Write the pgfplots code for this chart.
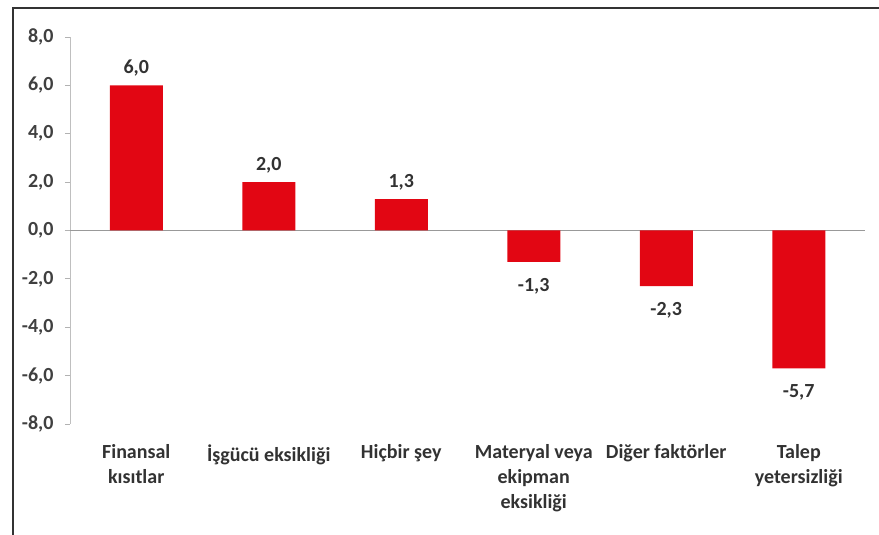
\documentclass[border=0pt]{standalone}
\usepackage{pgfplots}
\pgfplotsset{compat=1.18}
\usepackage{fontspec}
\setmainfont{Carlito}
\definecolor{barred}{RGB}{226,6,19}
\definecolor{txt}{RGB}{50,50,50}
\begin{document}
\begin{tikzpicture}[x=1pt,y=1pt]
\useasboundingbox (0,0) rectangle (879,535);
\draw[line width=2pt,color=black!80] (13,0) -- (13,527) -- (879,527);
\begin{axis}[
  at={(70pt,111pt)}, anchor=south west,
  width=795pt, height=387pt, scale only axis,
  xmin=-0.5, xmax=5.5, ymin=-8, ymax=8,
  ytick={-8,-6,...,8},
  xtick={0,1,2,3,4,5},
  xticklabels={Finansal\\kısıtlar, İşgücü eksikliği, Hiçbir şey, Materyal veya\\ekipman\\eksikliği, Diğer faktörler, Talep\\yetersizliği},
  axis lines*=left,
  x axis line style={draw=none},
  y axis line style={draw=black!25, line width=0.8pt},
  ytick style={draw=black!30, line width=0.8pt},
  major tick length=5pt,
  tick align=outside,
  xtick style={draw=none},
  extra y ticks={0},
  extra y tick labels={},
  extra y tick style={grid=major, major grid style={draw=black!40, line width=1pt}},
  /pgf/number format/assume math mode=true,
  yticklabel={\pgfmathprintnumber[fixed,fixed zerofill,precision=1,use comma]{\tick}},
  yticklabel style={font=\fontsize{20}{24}\selectfont\bfseries, color=black!75, xshift=-8pt},
  xticklabel style={font=\fontsize{20}{25}\selectfont\bfseries, color=txt, align=center, yshift=-12pt},
  ybar, bar width=53pt,
  visualization depends on={y \as \rawy},
  nodes near coords={\pgfmathprintnumber[fixed,fixed zerofill,precision=1,use comma]{\pgfplotspointmeta}},
  nodes near coords align={vertical},
  every node near coord/.append style={font=\fontsize{20}{24}\selectfont\bfseries, color=txt, inner xsep=3pt, inner ysep=9pt, yshift={ifthenelse(\rawy<0,-7,0)}},
  clip=false,
]
\addplot[fill=barred, draw=none] coordinates {(0,6.0) (1,2.0) (2,1.3) (3,-1.3) (4,-2.3) (5,-5.7)};
\end{axis}
\end{tikzpicture}
\end{document}
